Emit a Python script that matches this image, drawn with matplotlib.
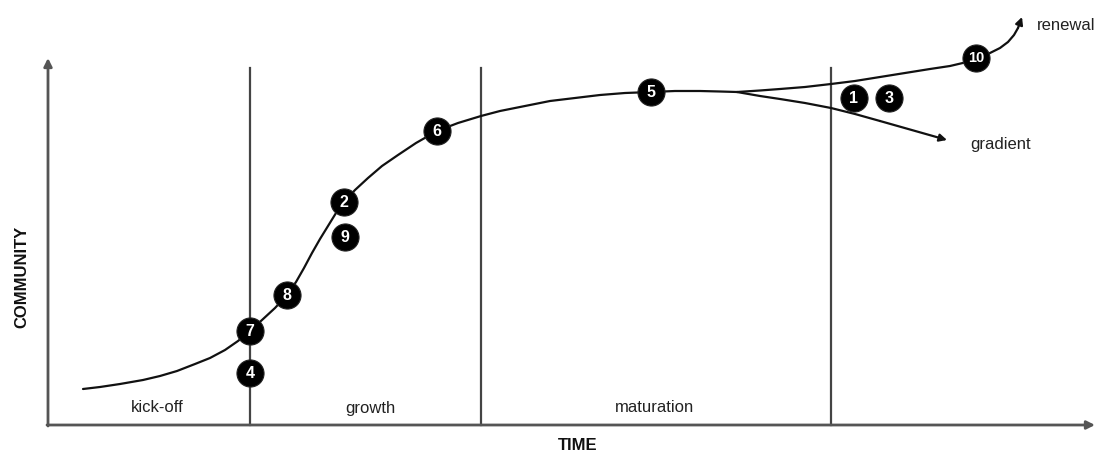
import matplotlib.pyplot as plt

# ------------------------------------
# Data (in pixel units of the 1113x455 picture)
# ------------------------------------
W, H = 1113, 455

axis_x0, axis_y0 = 48, 425
axis_x_end, axis_y_top = 1095, 58

phase_lines = [250, 481, 831]
phase_top = 68
phase_names = ["kick-off", "growth", "maturation"]
phase_label_x = [157, 370, 655]
phase_label_y = 408

# main S-curve up to the branch point
curve_x = [83, 100, 120, 143, 160, 177, 195, 210, 225, 238, 250, 262, 275,
           287, 296, 304, 312, 320, 328, 336, 344, 355, 368, 382, 398, 416,
           437, 458, 481, 500, 525, 550, 575, 600, 625, 651, 675, 700, 720,
           737]
curve_y = [389, 387, 384, 380, 376, 371, 364, 358, 350, 341, 331, 320, 308,
           295, 282, 268, 253, 239, 226, 213, 202, 190, 178, 166, 155, 143,
           131, 123, 116, 111, 106, 101, 98, 95, 93, 92, 91, 91, 91.5, 92]

renewal_x = [737, 760, 780, 805, 831, 855, 880, 905, 930, 950, 967, 980,
             990, 1000, 1008, 1014, 1018, 1022]
renewal_y = [92, 90.5, 89, 87, 84, 81, 77, 73, 69, 66, 62, 57, 53, 48, 42,
             35, 28, 17]

gradient_x = [737, 760, 780, 805, 831, 855, 880, 947]
gradient_y = [92, 96, 99, 103, 108, 114, 121, 140]

marker_ids = ["7", "4", "8", "2", "9", "6", "5", "1", "3", "10"]
marker_x = [250, 250, 287, 344, 345, 437, 651, 854, 889, 976]
marker_y = [331, 373, 295, 202, 237, 131, 92, 98, 98, 58]

# ------------------------------------
# Figure
# ------------------------------------
fig = plt.figure(figsize=(W / 100, H / 100), dpi=100)
ax = fig.add_axes([0, 0, 1, 1])
ax.set_xlim(0, W)
ax.set_ylim(H, 0)
ax.axis("off")

axis_color = "#555555"
font = "Liberation Sans"

# axes with arrows
ax.annotate("", xy=(axis_x0, axis_y_top), xytext=(axis_x0, axis_y0 + 1),
            arrowprops=dict(arrowstyle="-|>", color=axis_color, lw=2,
                            mutation_scale=12, shrinkA=0, shrinkB=0))
ax.annotate("", xy=(axis_x_end, axis_y0), xytext=(axis_x0 - 1, axis_y0),
            arrowprops=dict(arrowstyle="-|>", color=axis_color, lw=2,
                            mutation_scale=12, shrinkA=0, shrinkB=0))

# phase separators
for x in phase_lines:
    ax.plot([x, x], [phase_top, axis_y0], color="#444444", lw=1.6)

for name, x in zip(phase_names, phase_label_x):
    ax.text(x, phase_label_y, name, ha="center", va="center",
            fontsize=12, color="#222222", family=font)

ax.text(578, 446, "TIME", ha="center", va="center", fontsize=12,
        fontweight="bold", color="#111111", family=font)
ax.text(22, 277, "COMMUNITY", ha="center", va="center", fontsize=12,
        fontweight="bold", rotation=90, color="#111111", family=font)

# curves
line_kw = dict(color="#111111", lw=1.6, solid_joinstyle="round",
               solid_capstyle="round")
ax.plot(curve_x, curve_y, **line_kw)
ax.plot(renewal_x[:-1], renewal_y[:-1], **line_kw)
ax.annotate("", xy=(renewal_x[-1], renewal_y[-1]),
            xytext=(renewal_x[-2], renewal_y[-2]),
            arrowprops=dict(arrowstyle="-|>", color="#111111", lw=1.6,
                            mutation_scale=11, shrinkA=0, shrinkB=0))
ax.plot(gradient_x[:-1], gradient_y[:-1], **line_kw)
ax.annotate("", xy=(gradient_x[-1], gradient_y[-1]),
            xytext=(gradient_x[-2], gradient_y[-2]),
            arrowprops=dict(arrowstyle="-|>", color="#111111", lw=1.6,
                            mutation_scale=11, shrinkA=0, shrinkB=0))

ax.text(1037, 25, "renewal", ha="left", va="center", fontsize=12,
        color="#222222", family=font)
ax.text(970, 145, "gradient", ha="left", va="center", fontsize=12,
        color="#222222", family=font)

# numbered markers
ax.scatter(marker_x, marker_y, s=380, color="black", zorder=5,
           edgecolors="#222222", linewidths=0.8)
for label, x, y in zip(marker_ids, marker_x, marker_y):
    ax.text(x, y + 0.5, label, ha="center", va="center", color="white",
            fontsize=11.5 if len(label) == 1 else 10.5, fontweight="bold",
            family=font, zorder=6)

fig.savefig("out.png", dpi=100)
plt.close(fig)
